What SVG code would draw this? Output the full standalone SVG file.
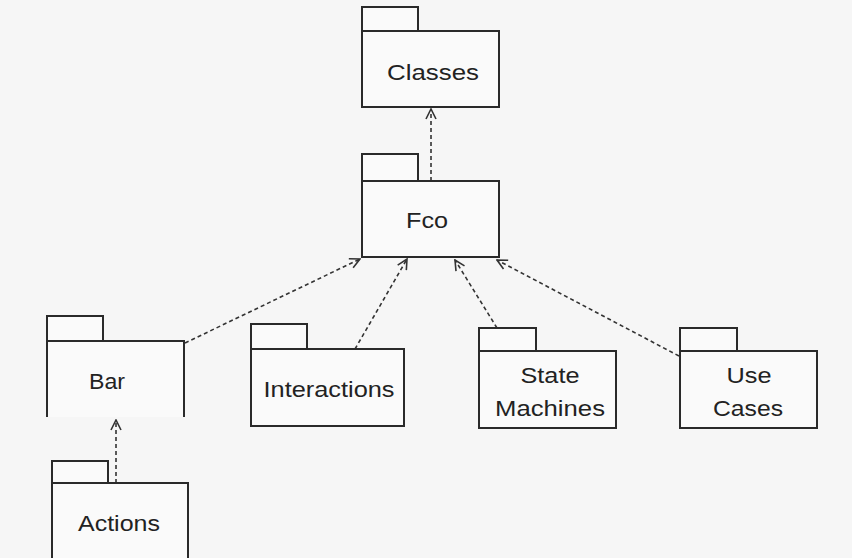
<svg xmlns="http://www.w3.org/2000/svg" width="852" height="558" viewBox="0 0 852 558">
<style>
.box{fill:#fafafa;stroke:#2a2a2a;stroke-width:2}
.open{fill:none;stroke:#2a2a2a;stroke-width:2}
.lbl{font-family:"Liberation Sans",Arial,sans-serif;font-size:22px;fill:#222;text-anchor:middle}
.dep{fill:none;stroke:#333;stroke-width:1.6;stroke-dasharray:4 3}
</style>
<defs>
<marker id="arr" viewBox="0 0 12 12" refX="11" refY="6" markerWidth="12" markerHeight="12" markerUnits="userSpaceOnUse" orient="auto">
<path d="M1,1 L11,6 L1,11" fill="none" stroke="#333" stroke-width="1.6"/>
</marker>
</defs>
<rect width="852" height="558" fill="#f6f6f6"/>
<g id="connectors">
<line class="dep" x1="431" y1="181" x2="431" y2="109" marker-end="url(#arr)"/>
<line class="dep" x1="116" y1="483" x2="116" y2="420" marker-end="url(#arr)"/>
<line class="dep" x1="185" y1="343" x2="360" y2="259" marker-end="url(#arr)"/>
<line class="dep" x1="355" y1="349" x2="407" y2="259" marker-end="url(#arr)"/>
<line class="dep" x1="497" y1="328" x2="455" y2="260" marker-end="url(#arr)"/>
<line class="dep" x1="679" y1="356" x2="497" y2="260" marker-end="url(#arr)"/>
</g>
<g id="classes">
<rect class="box" x="362" y="7" width="56" height="24"/>
<rect class="box" x="362" y="31" width="137" height="76"/>
<text class="lbl" x="433" y="80" textLength="92" lengthAdjust="spacingAndGlyphs">Classes</text>
</g>
<g id="fco">
<rect class="box" x="362" y="154" width="56" height="27"/>
<rect class="box" x="362" y="181" width="137" height="76"/>
<text class="lbl" x="427" y="228" textLength="42" lengthAdjust="spacingAndGlyphs">Fco</text>
</g>
<g id="bar">
<rect class="box" x="47" y="316" width="56" height="25"/>
<rect x="47" y="341" width="137" height="76" fill="#fafafa" stroke="none"/>
<path class="open" d="M47,417 L47,341 L184,341 L184,417"/>
<text class="lbl" x="107" y="389" textLength="36" lengthAdjust="spacingAndGlyphs">Bar</text>
</g>
<g id="actions">
<rect class="box" x="52" y="461" width="56" height="22"/>
<rect class="box" x="52" y="483" width="136" height="90"/>
<text class="lbl" x="119" y="531" textLength="82" lengthAdjust="spacingAndGlyphs">Actions</text>
</g>
<g id="interactions">
<rect class="box" x="251" y="324" width="56" height="25"/>
<rect class="box" x="251" y="349" width="153" height="77"/>
<text class="lbl" x="329" y="397" textLength="131" lengthAdjust="spacingAndGlyphs">Interactions</text>
</g>
<g id="state-machines">
<rect class="box" x="479" y="328" width="57" height="23"/>
<rect class="box" x="479" y="351" width="137" height="77"/>
<text class="lbl" x="550" y="383" textLength="59" lengthAdjust="spacingAndGlyphs">State</text>
<text class="lbl" x="550" y="416" textLength="110" lengthAdjust="spacingAndGlyphs">Machines</text>
</g>
<g id="use-cases">
<rect class="box" x="680" y="328" width="57" height="23"/>
<rect class="box" x="680" y="351" width="137" height="77"/>
<text class="lbl" x="749" y="383" textLength="45" lengthAdjust="spacingAndGlyphs">Use</text>
<text class="lbl" x="748" y="416" textLength="70" lengthAdjust="spacingAndGlyphs">Cases</text>
</g>
</svg>
